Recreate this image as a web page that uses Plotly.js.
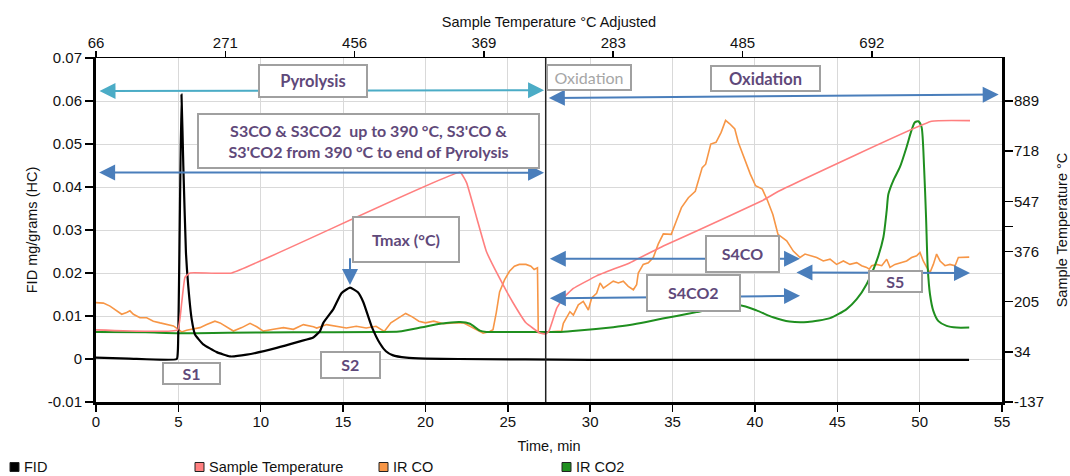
<!DOCTYPE html>
<html><head><meta charset="utf-8">
<script src="https://cdn.plot.ly/plotly-3.0.1.min.js"></script>
<style>html,body{margin:0;padding:0;background:#fff}#chart{width:1070px;height:476px}</style>
</head><body><div id="chart"></div>
<script>
// ---------------- DATA ----------------
const fidTime = [0, 2, 4.9, 4.97, 5.08, 5.19, 5.3, 5.46, 5.6, 5.81, 6.01, 6.51, 7.33, 8.13, 9.15, 10.97, 12.38, 13.19, 13.6, 13.8, 14.41, 14.9, 15.42, 15.9, 16.23, 16.73, 17.24, 17.6, 18.0, 18.84, 20, 22, 30, 40, 53];
const fidValue = [0.0003, 0.0001, 0.0, 0.002, 0.03, 0.0615, 0.045, 0.0248, 0.017, 0.0092, 0.0057, 0.0034, 0.0016, 0.0006, 0.001, 0.0026, 0.0041, 0.005, 0.0065, 0.0084, 0.0116, 0.0153, 0.0166, 0.0155, 0.0132, 0.0076, 0.0036, 0.0018, 0.0009, 0.0003, 0.0001, 0.0, -0.0002, -0.0002, -0.0002];

const tempTime = [0, 4.95, 5.2, 5.4, 5.71, 8.24, 22.1, 22.5, 23.1, 23.7, 24.5, 25.3, 26.1, 26.95, 27.3, 27.5, 27.97, 28.37, 28.98, 30.39, 32.42, 34.44, 36.46, 40.5, 41.5, 50.73, 53.06];
const tempValue = [109, 109, 200, 288, 303, 303, 646, 610, 493, 376, 285, 203, 133, 98, 95, 105, 183, 218, 250, 293, 338, 395, 446, 551, 583, 820, 822];

const coTime = [0, 0.45, 0.85, 1.25, 1.56, 1.86, 2.06, 2.27, 2.67, 3.08, 3.48, 3.89, 4.3, 4.7, 5.0, 5.2, 5.5, 5.91, 6.31, 6.72, 7.22, 7.53, 7.94, 8.34, 8.85, 9.35, 9.76, 10.16, 10.77, 11.38, 11.98, 12.59, 13.2, 13.4, 14.0, 14.6, 15.2, 15.8, 16.4, 17.0, 17.5, 17.9, 18.4, 18.8, 19.2, 19.6, 20.0, 20.5, 21.1, 21.7, 22.3, 22.7, 23.1, 23.5, 23.9, 24.1, 24.3, 24.5, 24.8, 25.1, 25.4, 25.7, 26.1, 26.4, 26.6, 26.8, 26.85, 27.3, 27.8, 28.27, 28.37, 28.57, 28.77, 28.98, 29.28, 29.58, 29.89, 30.09, 30.39, 30.6, 30.8, 31.1, 31.4, 31.71, 32.01, 32.31, 32.62, 32.82, 32.92, 33.22, 33.53, 33.83, 34.13, 34.44, 34.92, 35.23, 35.54, 35.96, 36.38, 36.8, 37.01, 37.32, 37.64, 37.95, 38.22, 38.47, 38.78, 38.99, 39.41, 39.72, 40.04, 40.45, 40.77, 41.09, 41.4, 41.71, 41.93, 42.33, 42.74, 43.04, 43.34, 43.75, 44.15, 44.56, 44.96, 45.37, 45.77, 46.18, 46.48, 46.78, 46.94, 47.09, 47.39, 47.7, 48.0, 48.2, 48.5, 48.8, 49.21, 49.51, 49.82, 50.02, 50.22, 50.43, 50.63, 50.83, 51.03, 51.24, 51.54, 51.84, 52.15, 52.35, 52.65, 53.01];
const coValue = [0.0131, 0.013, 0.0123, 0.0112, 0.0104, 0.0108, 0.0112, 0.0104, 0.0096, 0.0096, 0.0088, 0.0084, 0.008, 0.0077, 0.0069, 0.0063, 0.0067, 0.007, 0.0073, 0.008, 0.0088, 0.0084, 0.0075, 0.0065, 0.0073, 0.0083, 0.0075, 0.0065, 0.0069, 0.0073, 0.0069, 0.008, 0.0075, 0.0072, 0.008, 0.0076, 0.0072, 0.0076, 0.0072, 0.0076, 0.0064, 0.0084, 0.0096, 0.0106, 0.0098, 0.0088, 0.0084, 0.0088, 0.0082, 0.0084, 0.0084, 0.0076, 0.0068, 0.006, 0.0064, 0.0068, 0.0108, 0.0156, 0.0184, 0.0204, 0.0216, 0.022, 0.022, 0.0216, 0.0208, 0.0212, 0.0062, 0.0062, 0.0064, 0.0065, 0.0083, 0.0095, 0.011, 0.0102, 0.0126, 0.0134, 0.0114, 0.0142, 0.0153, 0.0177, 0.0165, 0.0173, 0.0181, 0.0177, 0.0181, 0.0169, 0.0161, 0.0173, 0.02, 0.022, 0.0224, 0.0236, 0.0267, 0.0291, 0.029, 0.0321, 0.0352, 0.0375, 0.039, 0.0445, 0.0453, 0.05, 0.0504, 0.0527, 0.0555, 0.0547, 0.0535, 0.0504, 0.0461, 0.043, 0.0403, 0.0395, 0.0368, 0.0336, 0.029, 0.0282, 0.0275, 0.0251, 0.0236, 0.0244, 0.024, 0.0236, 0.0228, 0.0232, 0.022, 0.0228, 0.022, 0.0224, 0.0217, 0.0213, 0.0209, 0.0217, 0.022, 0.0217, 0.0232, 0.0213, 0.022, 0.0224, 0.0228, 0.0236, 0.024, 0.0248, 0.0228, 0.0213, 0.0201, 0.022, 0.0244, 0.0228, 0.0217, 0.022, 0.0217, 0.0236, 0.0237, 0.0237];

const co2Time = [0, 3, 5, 8, 12, 17, 18.4, 19.8, 20.9, 22.1, 22.7, 23.3, 23.7, 26, 28.2, 29.3, 31.4, 32.4, 33.4, 34.4, 35.25, 36.46, 37.7, 39.1, 40.1, 41.1, 42.1, 43.2, 44.56, 45.57, 46.18, 46.78, 47.39, 47.8, 48.0, 48.1, 48.4, 48.8, 49.2, 49.5, 49.7, 49.92, 50.12, 50.27, 50.39, 50.49, 50.63, 50.83, 51.14, 51.64, 52.25, 53.01];
const co2Value = [0.0063, 0.0062, 0.006, 0.0061, 0.0062, 0.0063, 0.0064, 0.0074, 0.0082, 0.0086, 0.0082, 0.0066, 0.0063, 0.0063, 0.0063, 0.0066, 0.0074, 0.0079, 0.0086, 0.0094, 0.01, 0.0109, 0.0119, 0.0125, 0.0113, 0.0097, 0.0087, 0.0086, 0.0095, 0.0116, 0.0139, 0.0174, 0.0228, 0.0283, 0.0345, 0.0383, 0.0415, 0.0446, 0.0492, 0.0531, 0.055, 0.0553, 0.0539, 0.0446, 0.0329, 0.0213, 0.015, 0.0112, 0.0088, 0.0077, 0.0073, 0.0073];

const fidTickVals = [-0.01, 0, 0.01, 0.02, 0.03, 0.04, 0.05, 0.06, 0.07];
const fidTickText = ['-0.01', '0', '0.01', '0.02', '0.03', '0.04', '0.05', '0.06', '0.07'];
const tempTickVals = [-137, 34, 205, 376, 461.5, 547, 718, 889];
const tempTickText = ['-137', '34', '205', '376', '', '547', '718', '889'];
const adjTickVals = [0, 7.85, 15.7, 23.55, 31.4, 39.25, 47.1];
const adjTickText = ['66', '271', '456', '369', '283', '485', '692'];
const pyrolysisEnd = 27.3;

const seriesNames = ['FID', 'Sample Temperature', 'IR CO', 'IR CO2'];
const seriesColors = ['#000000', '#FF7F7F', '#F79646', '#1F8F1F'];

// ---------------- CHART ----------------
const PL = 96, PR = 1002, PT = 58, PB = 402;
const fx = px => (px - PL) / (PR - PL);
const fy = py => (PB - py) / (PB - PT);
const FONT = 'Liberation Sans, Arial, sans-serif';
const NOTE = 'Lato, Open Sans, sans-serif';
const PURPLE = '#5F497A';
const BLUE = '#4A7EBB';

const traces = [
  {x: coTime, y: coValue, name: seriesNames[2], type: 'scatter', mode: 'lines', line: {color: seriesColors[2], width: 1.6}},
  {x: co2Time, y: co2Value, name: seriesNames[3], type: 'scatter', mode: 'lines', line: {color: seriesColors[3], width: 2, shape: 'spline', smoothing: 0.6}},
  {x: tempTime, y: tempValue, name: seriesNames[1], type: 'scatter', mode: 'lines', xaxis: 'x2', yaxis: 'y2', line: {color: seriesColors[1], width: 1.6, shape: 'spline', smoothing: 0.3}},
  {x: fidTime, y: fidValue, name: seriesNames[0], type: 'scatter', mode: 'lines', line: {color: seriesColors[0], width: 2.2, shape: 'spline', smoothing: 0.4}}
];

function arrow(x0, y0, x1, y1, color, both) {
  return {x: x1, y: y1, ax: x0, ay: y0, xref: 'x', yref: 'y', axref: 'x', ayref: 'y', text: '',
    showarrow: true, arrowhead: 2, startarrowhead: 2, arrowsize: 1.6, startarrowsize: 1.6, arrowwidth: 2,
    arrowcolor: color, arrowside: both ? 'end+start' : 'end', standoff: 0, startstandoff: 0};
}
function box(cx, cy, w, h, text, color, bold, size) {
  return {x: fx(cx), y: fy(cy), xref: 'paper', yref: 'paper', xanchor: 'center', yanchor: 'middle',
    text: bold ? '<b>' + text + '</b>' : text, showarrow: false, width: w - 4, height: h - 4,
    bgcolor: '#ffffff', bordercolor: '#A0A0A0', borderwidth: 2, borderpad: 0, align: 'center', valign: 'middle',
    font: {family: NOTE, size: size || 16, color: color}};
}

const annotations = [
  arrow(0.12, 0.0623, 27.2, 0.0625, '#4BACC6', true),
  arrow(27.4, 0.0607, 54.8, 0.0615, BLUE, true),
  arrow(0.1, 0.0434, 27.2, 0.0433, BLUE, true),
  arrow(15.42, 0.0238, 15.42, 0.0172, BLUE, false),
  arrow(27.46, 0.0233, 42.74, 0.0233, BLUE, true),
  arrow(27.46, 0.0141, 42.74, 0.0147, BLUE, true),
  arrow(42.43, 0.0201, 53.06, 0.0200, BLUE, true),
  box(313.4, 80.6, 110, 34, 'Pyrolysis', PURPLE, true, 16.5),
  box(588.5, 77.5, 86, 27, 'Oxidation', '#A6A6A6', false),
  box(765, 78, 111, 27, 'Oxidation', PURPLE, true, 16.5),
  box(368.3, 141.3, 343, 56, 'S3CO &amp; S3CO2  up to 390 °C, S3\'CO &amp;<br>S3\'CO2 from 390 °C to end of Pyrolysis', PURPLE, true),
  box(405.8, 239.7, 108, 47, 'Tmax (°C)', PURPLE, true),
  box(191.4, 373, 59, 23, 'S1', PURPLE, true),
  box(350.3, 365.4, 60.5, 27.6, 'S2', PURPLE, true),
  box(742.5, 253.8, 75, 37.7, 'S4CO', PURPLE, true),
  box(693.3, 292.8, 94.7, 37.7, 'S4CO2', PURPLE, true),
  box(895.3, 281.3, 54.7, 22.7, 'S5', PURPLE, true)
];

// legend (bottom row)
const legendX = [10, 195, 379, 562];
const legendY = 467;
const shapes = [
  {type: 'line', xref: 'x', yref: 'paper', x0: pyrolysisEnd, x1: pyrolysisEnd, y0: 0, y1: 1, line: {color: '#222', width: 1.5}, layer: 'above'}
];
legendX.forEach((lx, i) => {
  shapes.push({type: 'rect', xref: 'paper', yref: 'paper', x0: fx(lx), x1: fx(lx + 9), y0: fy(legendY + 4.5), y1: fy(legendY - 4.5),
    fillcolor: seriesColors[i], line: {color: '#222', width: 1}});
  annotations.push({x: fx(lx + 12), y: fy(legendY), xref: 'paper', yref: 'paper', xanchor: 'left', yanchor: 'middle',
    text: seriesNames[i], showarrow: false, font: {family: FONT, size: 14.5, color: '#111'}});
});

const layout = {
  width: 1070, height: 476,
  margin: {l: PL, r: 1070 - PR, t: PT, b: 476 - PB, pad: 0},
  paper_bgcolor: '#fff', plot_bgcolor: '#fff',
  font: {family: FONT, size: 15, color: '#111'},
  showlegend: false,
  xaxis: {range: [0, 55], dtick: 5, tick0: 0, showgrid: true, gridcolor: '#D9D9D9', gridwidth: 1, zeroline: false,
    showline: true, linecolor: '#000', linewidth: 3, ticks: 'outside', ticklen: 7, tickwidth: 1.5, tickcolor: '#000',
    ticklabelstandoff: -3,
    tickfont: {size: 15}, title: {text: 'Time, min', font: {size: 14.5}, standoff: 12}},
  xaxis2: {overlaying: 'x', side: 'top', anchor: 'y', range: [0, 55], tickvals: adjTickVals, ticktext: adjTickText,
    showgrid: false, zeroline: false, showline: true, linecolor: '#000', linewidth: 1.2, ticks: 'outside', ticklen: 6,
    ticklabelstandoff: -3,
    tickwidth: 1.5, tickcolor: '#000', tickfont: {size: 15}, title: {text: 'Sample Temperature °C Adjusted', font: {size: 14.5}, standoff: 2}},
  yaxis: {range: [-0.01, 0.07], tickvals: fidTickVals, ticktext: fidTickText, showgrid: true, gridcolor: '#D9D9D9', zeroline: false,
    showline: true, linecolor: '#000', linewidth: 3, ticks: 'outside', ticklen: 8, tickwidth: 1.5, tickcolor: '#000',
    tickfont: {size: 15}, title: {text: 'FID mg/grams (HC)', font: {size: 14.5}, standoff: 7}},
  yaxis2: {overlaying: 'y', side: 'right', anchor: 'x', range: [-137, 1035.6], tickvals: tempTickVals, ticktext: tempTickText,
    showgrid: false, zeroline: false, showline: true, linecolor: '#000', linewidth: 3, ticks: 'outside', ticklen: 8,
    ticklabelstandoff: -2,
    tickwidth: 1.5, tickcolor: '#000', tickfont: {size: 15}, title: {text: 'Sample Temperature °C', font: {size: 14.5}, standoff: 15}},
  annotations: annotations,
  shapes: shapes
};

Plotly.newPlot('chart', traces, layout, {displayModeBar: false, staticPlot: true});
</script></body></html>
